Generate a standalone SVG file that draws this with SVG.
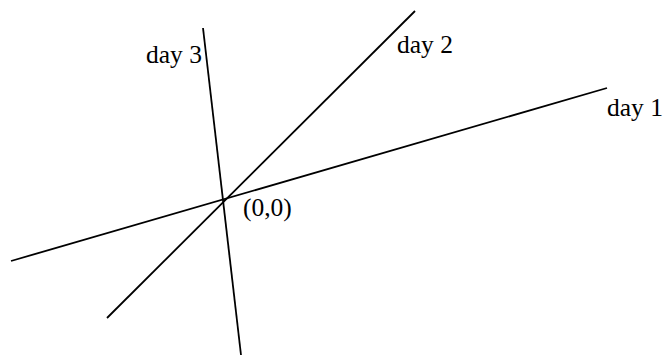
<svg xmlns="http://www.w3.org/2000/svg" width="666" height="356" viewBox="0 0 666 356">
<style>
.ax{stroke:#000;stroke-width:1.8;fill:none}
.lb{font-family:"Liberation Serif","Times New Roman",serif;font-size:25.5px;fill:#000}
</style>
<rect width="666" height="356" fill="#fff"/>
<g id="connectors">
<line class="ax" x1="11" y1="261" x2="607" y2="88"/>
<line class="ax" x1="107" y1="318" x2="415" y2="11"/>
<line class="ax" x1="203" y1="28" x2="241" y2="355"/>
</g>
<g id="day1"><text class="lb" x="607" y="116">day 1</text></g>
<g id="day2"><text class="lb" x="397" y="53">day 2</text></g>
<g id="day3"><text class="lb" x="146" y="63">day 3</text></g>
<g id="origin"><text class="lb" x="243" y="216">(0,0)</text></g>
</svg>
